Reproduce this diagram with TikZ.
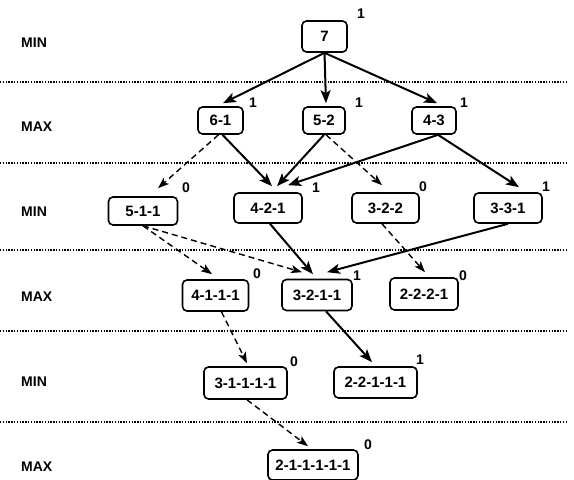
\documentclass[tikz,border=0pt]{standalone}
\usepackage{fontspec}
\setmainfont{Liberation Sans}
\usetikzlibrary{arrows.meta,calc}
\begin{document}
\begin{tikzpicture}[x=1pt,y=-1pt,
  box/.style={draw, line width=1.6pt, rounded corners=4.5pt, inner sep=0pt, font=\fontsize{15}{17}\selectfont\bfseries},
  lvl/.style={anchor=west, inner sep=0pt, font=\fontsize{14}{16}\selectfont\bfseries},
  score/.style={font=\fontsize{14}{16}\selectfont\bfseries, inner sep=0pt},
  sep/.style={line width=1.5pt, dash pattern=on 1.3pt off 1.5pt},
  win/.style={line width=2pt, -{Stealth[length=13pt,width=10pt,inset=3pt]}},
  lose/.style={line width=1.4pt, dash pattern=on 6pt off 4pt, -{Stealth[length=11pt,width=8pt,inset=2.5pt]}}
]
\useasboundingbox[fill=white] (0,0) rectangle (574,480);

% separators
\foreach \yy in {82,163,250,331,422}
  \draw[sep] (0,\yy) -- (566,\yy);

% level labels
\node[lvl] (l1) at (21,43) {MIN};
\node[lvl] (l2) at (21,127) {MAX};
\node[lvl] (l3) at (21,212) {MIN};
\node[lvl] (l4) at (21,297) {MAX};
\node[lvl] (l5) at (21,382) {MIN};
\node[lvl] (l6) at (21,467) {MAX};

% boxes
\node[box, minimum width=45pt, minimum height=31pt] (n7) at (324.5,36.5) {7};
\node[box, minimum width=45pt, minimum height=27pt] (n61) at (220.5,120.5) {6-1};
\node[box, minimum width=42pt, minimum height=27pt] (n52) at (324,120.5) {5-2};
\node[box, minimum width=44pt, minimum height=27pt] (n43) at (434,120.5) {4-3};
\node[box, minimum width=69pt, minimum height=28pt] (n511) at (143,211) {5-1-1};
\node[box, minimum width=68pt, minimum height=30pt] (n421) at (268,208) {4-2-1};
\node[box, minimum width=67pt, minimum height=30pt] (n322) at (385.5,208) {3-2-2};
\node[box, minimum width=68pt, minimum height=30pt] (n331) at (508,208) {3-3-1};
\node[box, minimum width=66pt, minimum height=31pt] (n4111) at (215.5,295.5) {4-1-1-1};
\node[box, minimum width=70pt, minimum height=31pt] (n3211) at (317,295) {3-2-1-1};
\node[box, minimum width=68pt, minimum height=32pt] (n2221) at (424,294) {2-2-2-1};
\node[box, minimum width=83pt, minimum height=32pt] (n31111) at (245.5,383) {3-1-1-1-1};
\node[box, minimum width=83pt, minimum height=31pt] (n22111) at (375.5,382.5) {2-2-1-1-1};
\node[box, minimum width=90pt, minimum height=30pt] (n211111) at (313,465) {2-1-1-1-1-1};

% scores
\node[score] (s7) at (361,14) {1};
\node[score] (s61) at (253,103) {1};
\node[score] (s52) at (359,103) {1};
\node[score] (s43) at (464,103) {1};
\node[score] (s511) at (186,188) {0};
\node[score] (s421) at (316,188) {1};
\node[score] (s322) at (423,187) {0};
\node[score] (s331) at (546,187) {1};
\node[score] (s4111) at (257,274) {0};
\node[score] (s3211) at (357,276) {1};
\node[score] (s2221) at (463,276) {0};
\node[score] (s31111) at (294,362) {0};
\node[score] (s22111) at (420,360) {1};
\node[score] (s211111) at (368,445) {0};

% edges
\draw[win] (n7.south) -- ($(n61.north)+(2.5,-3)$);
\draw[win] (n7.south) -- ($(n52.north)+(2,-3)$);
\draw[win] (n7.south) -- ($(n43.north)+(3,-3)$);

\draw[lose] ($(n61.south)+(-2,0)$) -- ($(n511.north)+(15,-8)$);
\draw[win] ($(n61.south)+(2,0)$) -- ($(n421.north)+(4,-6)$);
\draw[win] (n52.south) -- ($(n421.north)+(9,-6)$);
\draw[lose] ($(n52.south)+(2,0)$) -- ($(n322.north)+(-3.5,-7)$);
\draw[win] ($(n43.south)+(4,0)$) -- ($(n421.north)+(20,-7)$);
\draw[win] ($(n43.south)+(4,0)$) -- ($(n331.north)+(11,-5)$);

\draw[lose] (n511.south) -- ($(n4111.north)+(-3.5,-5)$);
\draw[lose] (n511.south) -- ($(n3211.north)+(-15,-6.5)$);
\draw[win] ($(n421.south)+(2,0)$) -- ($(n3211.north)+(-4,-4.5)$);
\draw[win] (n331.south) -- ($(n3211.north)+(10,-6.5)$);
\draw[lose] ($(n322.south)+(-3.5,0)$) -- ($(n2221.north)+(1,-5)$);

\draw[lose] ($(n4111.south)+(6,0)$) -- ($(n31111.north)+(1.5,-3)$);
\draw[win] ($(n3211.south)+(9,0)$) -- ($(n22111.north)+(-3.5,-4)$);
\draw[lose] ($(n31111.south)+(1.5,0)$) -- ($(n211111.north)+(-5,-3)$);
\end{tikzpicture}
\end{document}
